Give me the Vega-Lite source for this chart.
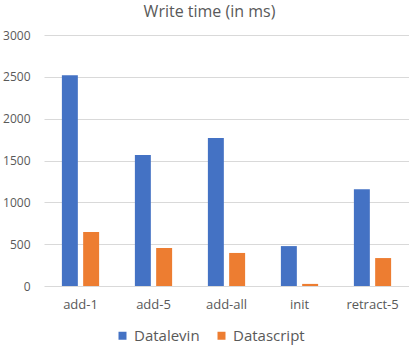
{
  "$schema": "https://vega.github.io/schema/vega-lite/v6.json",
  "width": 365,
  "height": 251,
  "autosize": {"type": "none"},
  "padding": {"left": 44, "top": 35, "right": 0, "bottom": 65},
  "background": "white",
  "title": {
    "text": "Write time (in ms)",
    "font": "Open Sans",
    "fontSize": 16,
    "fontWeight": "normal",
    "color": "#595959",
    "anchor": "middle",
    "dx": -17,
    "offset": 9
  },
  "data": {
    "values": [
      {"op": "add-1", "db": "Datalevin", "ms": 2520},
      {"op": "add-1", "db": "Datascript", "ms": 645},
      {"op": "add-5", "db": "Datalevin", "ms": 1565},
      {"op": "add-5", "db": "Datascript", "ms": 455},
      {"op": "add-all", "db": "Datalevin", "ms": 1768},
      {"op": "add-all", "db": "Datascript", "ms": 395},
      {"op": "init", "db": "Datalevin", "ms": 477},
      {"op": "init", "db": "Datascript", "ms": 25},
      {"op": "retract-5", "db": "Datalevin", "ms": 1157},
      {"op": "retract-5", "db": "Datascript", "ms": 334}
    ]
  },
  "mark": {"type": "bar"},
  "encoding": {
    "x": {
      "field": "op",
      "type": "nominal",
      "sort": null,
      "scale": {"paddingInner": 0.49, "paddingOuter": 0.245},
      "axis": {
        "title": null,
        "labelAngle": 0,
        "domain": false,
        "ticks": false,
        "labelFont": "Open Sans",
        "labelFontSize": 13,
        "labelColor": "#595959",
        "labelPadding": 12
      }
    },
    "xOffset": {
      "field": "db",
      "type": "nominal",
      "scale": {"paddingInner": 0.25, "paddingOuter": 0}
    },
    "y": {
      "field": "ms",
      "type": "quantitative",
      "scale": {"domain": [0, 3000], "nice": false},
      "axis": {
        "title": null,
        "values": [0, 500, 1000, 1500, 2000, 2500, 3000],
        "format": "d",
        "domain": false,
        "ticks": false,
        "labelFont": "Open Sans",
        "labelFontSize": 12,
        "labelColor": "#595959",
        "labelPadding": 14,
        "gridColor": "#D9D9D9",
        "gridWidth": 1
      }
    },
    "color": {
      "field": "db",
      "type": "nominal",
      "scale": {"domain": ["Datalevin", "Datascript"], "range": ["#4472C4", "#ED7D31"]},
      "legend": {
        "title": null,
        "orient": "none",
        "direction": "horizontal",
        "legendX": 71,
        "legendY": 293,
        "symbolType": "square",
        "symbolSize": 64,
        "symbolStrokeWidth": 0,
        "labelFont": "Open Sans",
        "labelFontSize": 15,
        "labelColor": "#595959",
        "columnPadding": 14
      }
    }
  },
  "config": {"view": {"stroke": null}}
}
